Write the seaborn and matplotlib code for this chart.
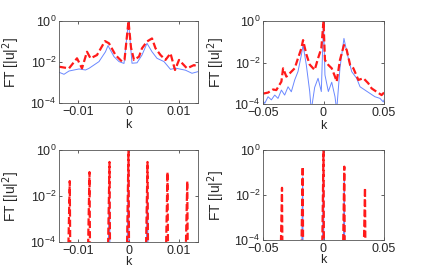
import numpy as np
import pandas as pd
import seaborn as sns
import matplotlib
matplotlib.use("Agg")
import matplotlib.pyplot as plt
from matplotlib.ticker import FixedLocator, FuncFormatter, NullLocator

# ---- data (k, log10 of FT[|u|^2]) ----
# top-left panel
tl_blue_k = [-0.0139, -0.0129, -0.0119, -0.0099, -0.0086, -0.0079, -0.0059, -0.0046, -0.0041,
             -0.0029, -0.0019, -0.0009, 0.0, 0.0007, 0.0017, 0.0027, 0.0037, 0.0047, 0.0057,
             0.0071, 0.0084, 0.0094, 0.0114, 0.0127, 0.0139]
tl_blue_lg = [-2.50, -2.60, -2.44, -2.34, -2.39, -2.31, -1.98, -1.50, -1.20,
              -1.74, -1.98, -2.07, 0.0, -2.06, -2.04, -1.66, -1.09, -1.50, -1.82,
              -1.98, -2.36, -2.30, -2.40, -2.55, -2.47]
tl_red_k = [-0.0139, -0.0119, -0.0103, -0.0093, -0.0083, -0.0076, -0.0063, -0.0047, -0.0039,
            -0.0026, -0.0013, -0.0008, 0.0, 0.0005, 0.0011, 0.0021, 0.0027, 0.0037, 0.0047,
            0.0054, 0.0064, 0.0074, 0.0084, 0.0093, 0.0101, 0.0117, 0.0131, 0.0139]
tl_red_lg = [-2.23, -2.31, -1.82, -2.31, -1.50, -1.82, -1.66, -0.98, -1.09,
             -1.66, -1.98, -1.90, 0.0, -1.30, -1.90, -1.74, -1.33, -1.00, -0.85,
             -1.33, -1.66, -1.90, -1.58, -2.39, -1.90, -2.31, -2.15, -2.23]

# top-right panel
tr_blue_k = [-0.0500, -0.0486, -0.0458, -0.0431, -0.0403, -0.0376, -0.0348, -0.0321, -0.0293,
             -0.0266, -0.0238, -0.0211, -0.0183, -0.0169, -0.0142, -0.0114, -0.0101, -0.0073,
             -0.0045, -0.0018, 0.0, 0.0012, 0.0040, 0.0068, 0.0095, 0.0109, 0.0136, 0.0169,
             0.0192, 0.0233, 0.0274, 0.0302, 0.0343, 0.0384, 0.0425, 0.0467, 0.0494, 0.0500]
tr_blue_lg = [-3.85, -3.97, -3.65, -3.80, -3.57, -3.73, -3.33, -3.57, -3.17,
              -3.41, -2.84, -2.44, -1.64, -1.16, -2.12, -3.40, -4.30, -3.20,
              -2.76, -3.40, 0.0, -2.60, -3.40, -2.95, -3.65, -4.30, -2.27, -0.84,
              -1.48, -2.44, -2.76, -3.17, -3.33, -3.49, -3.65, -3.73, -3.90, -3.80]
tr_red_k = [-0.0500, -0.0458, -0.0417, -0.0390, -0.0348, -0.0334, -0.0307, -0.0279, -0.0238,
            -0.0211, -0.0183, -0.0169, -0.0142, -0.0114, -0.0073, -0.0045, -0.0018, 0.0,
            0.0012, 0.0040, 0.0068, 0.0095, 0.0109, 0.0136, 0.0169, 0.0192, 0.0220, 0.0247,
            0.0288, 0.0330, 0.0370, 0.0398, 0.0439, 0.0480, 0.0500]
tr_red_lg = [-3.50, -3.45, -3.30, -3.33, -2.92, -2.28, -2.68, -2.52, -2.28,
             -1.80, -1.32, -0.92, -1.60, -2.10, -2.36, -1.80, -1.32, 0.0,
             -1.88, -2.12, -2.28, -2.68, -2.92, -1.88, -1.16, -1.40, -2.12, -2.28,
             -2.84, -2.76, -3.00, -3.25, -3.41, -3.57, -3.45]

# bottom panels: spectral lines (peak position, log10 peak height)
bl_red_pk = [-0.01175, -0.0078, -0.0038, 0.0, 0.0038, 0.0078, 0.01175]
bl_red_lg = [-1.35, -0.96, -0.52, 0.0, -0.52, -0.96, -1.35]
bl_blue_pk = [-0.0038, 0.0, 0.0038]
bl_blue_lg = [-1.6, 0.0, -1.6]

br_red_pk = [-0.0343, -0.0172, 0.0, 0.0172, 0.0343]
br_red_lg = [-1.68, -0.74, 0.0, -0.74, -1.68]
br_blue_pk = [-0.0172, 0.0, 0.0172]
br_blue_lg = [-1.2, 0.0, -1.2]


def spikes(peaks, heights, w_left, w_right, floor=-5.0):
    k, v = [], []
    for p, h in zip(peaks, heights):
        k += [p - w_left, p, p + w_right]
        v += [10 ** floor, 10 ** h, 10 ** floor]
    return pd.DataFrame({"k": k, "ft": v})


def curve(k, lg):
    return pd.DataFrame({"k": k, "ft": 10 ** np.asarray(lg)})


sns.set_style("ticks")
plt.rcParams["font.family"] = ["Liberation Sans", "DejaVu Sans"]
plt.rcParams["xtick.direction"] = "in"
plt.rcParams["ytick.direction"] = "in"
plt.rcParams["xtick.top"] = True
plt.rcParams["ytick.right"] = True

BLUE = "#6a88ff"
RED = "#ff1a1a"
RED_LS = (0, (3.2, 1.4))

fig = plt.figure(figsize=(4.25, 2.73), dpi=100)
W, H = 425.0, 273.0


def make_ax(left, right, top, bottom):
    return fig.add_axes([left / W, 1 - bottom / H, (right - left) / W, (bottom - top) / H])


ax_tl = make_ax(59, 198, 21, 103)
ax_tr = make_ax(263, 384, 21, 104)
ax_bl = make_ax(59, 198, 150, 242)
ax_br = make_ax(263, 384, 150, 240)

sns.lineplot(data=curve(tl_blue_k, tl_blue_lg), x="k", y="ft", ax=ax_tl, color=BLUE, lw=0.7)
sns.lineplot(data=curve(tl_red_k, tl_red_lg), x="k", y="ft", ax=ax_tl, color=RED, lw=1.6, linestyle=RED_LS)
sns.lineplot(data=curve(tr_blue_k, tr_blue_lg), x="k", y="ft", ax=ax_tr, color=BLUE, lw=0.7)
sns.lineplot(data=curve(tr_red_k, tr_red_lg), x="k", y="ft", ax=ax_tr, color=RED, lw=1.6, linestyle=RED_LS)
sns.lineplot(data=spikes(bl_blue_pk, bl_blue_lg, 0.0003, 0.0001), x="k", y="ft", ax=ax_bl, color=BLUE, lw=0.8)
sns.lineplot(data=spikes(bl_red_pk, bl_red_lg, 0.00035, 0.00012), x="k", y="ft", ax=ax_bl, color=RED, lw=1.6, linestyle=RED_LS)
sns.lineplot(data=spikes(br_blue_pk, br_blue_lg, 0.0009, 0.0003), x="k", y="ft", ax=ax_br, color=BLUE, lw=0.8)
sns.lineplot(data=spikes(br_red_pk, br_red_lg, 0.0012, 0.0004), x="k", y="ft", ax=ax_br, color=RED, lw=1.6, linestyle=RED_LS)

fmt = FuncFormatter(lambda v, pos: ("%g" % v).replace("-", "\u2212"))

for ax, xlim, xticks, ylx in [(ax_tl, 0.0139, [-0.01, 0, 0.01], -0.266),
                              (ax_tr, 0.05, [-0.05, 0, 0.05], -0.30),
                              (ax_bl, 0.0139, [-0.01, 0, 0.01], -0.266),
                              (ax_br, 0.05, [-0.05, 0, 0.05], -0.30)]:
    ax.set_yscale("log")
    ax.set_ylim(1e-4, 1e0)
    ax.set_xlim(-xlim, xlim)
    ax.yaxis.set_major_locator(FixedLocator([1e-4, 1e-2, 1e0]))
    ax.yaxis.set_minor_locator(NullLocator())
    ax.xaxis.set_major_locator(FixedLocator(xticks))
    ax.xaxis.set_major_formatter(fmt)
    ax.tick_params(labelsize=9, length=2.5, width=0.6, pad=2, color="#444444")
    for s in ax.spines.values():
        s.set_linewidth(0.6)
        s.set_color("#555555")
    ax.set_xlabel("k", fontsize=9)
    ax.set_ylabel(r"FT [|u|$^2$]", fontsize=10)
    ax.yaxis.set_label_coords(ylx, 0.5)

ax_tl.xaxis.set_label_coords(0.5, -0.195)
ax_tr.xaxis.set_label_coords(0.5, -0.19)
ax_bl.xaxis.set_label_coords(0.5, -0.152)
ax_br.xaxis.set_label_coords(0.5, -0.16)

fig.savefig("out.png", dpi=100)
